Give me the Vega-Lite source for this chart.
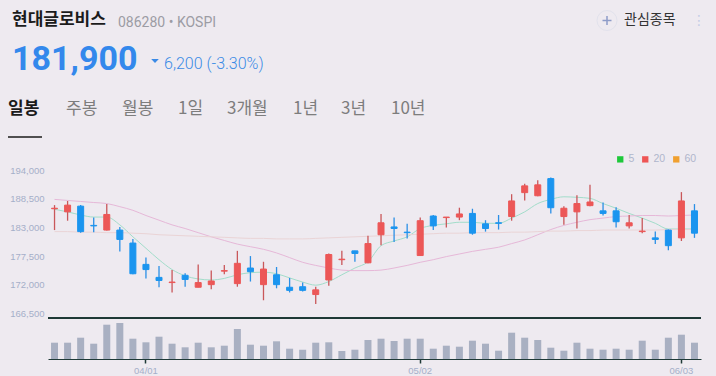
{
  "$schema": "https://vega.github.io/schema/vega-lite/v6.json",
  "width": 653,
  "height": 209,
  "autosize": {"type": "none"},
  "padding": {"left": 48, "top": 150, "right": 15, "bottom": 17},
  "background": "#eeeaf0",
  "config": {
    "view": {"stroke": null},
    "font": "Noto Sans CJK KR",
    "axisY": {"ticks": false, "domain": false, "grid": false, "labelColor": "#a5afc9", "labelFontSize": 9.5, "labelFont": "Liberation Sans", "labelPadding": 4},
    "axisX": {"domainColor": "#1f3a37", "domainWidth": 1.2, "tickColor": "#1f3a37", "tickSize": 4, "tickWidth": 1.5, "labelColor": "#a5afc9", "labelFontSize": 9.5, "labelFont": "Liberation Sans", "labelPadding": 2, "labelAngle": 0, "grid": false, "bandPosition": 0.5}
  },
  "datasets": {
    "candles": [
      {"d":"03/21","o":186600,"h":187300,"l":182500,"c":186700,"v":163000,"m5":186500,"m20":188400,"m60":182200},
      {"d":"03/22","o":186000,"h":188100,"l":184300,"c":187300,"v":163000,"m5":186000,"m20":188200,"m60":182200},
      {"d":"03/25","o":187100,"h":187300,"l":182000,"c":182200,"v":213000,"m5":185400,"m20":188000,"m60":182100},
      {"d":"03/26","o":183400,"h":184900,"l":182100,"c":183300,"v":153000,"m5":185000,"m20":187800,"m60":182100},
      {"d":"03/27","o":182500,"h":187500,"l":182400,"c":185500,"v":343000,"m5":185000,"m20":187600,"m60":182000},
      {"d":"03/28","o":182500,"h":183100,"l":178400,"c":180700,"v":360000,"m5":183500,"m20":187000,"m60":182000},
      {"d":"03/29","o":180000,"h":180800,"l":174000,"c":174100,"v":203000,"m5":181200,"m20":186300,"m60":181900},
      {"d":"04/01","o":175900,"h":177200,"l":173200,"c":174900,"v":167000,"m5":179000,"m20":185300,"m60":181800},
      {"d":"04/02","o":173400,"h":175600,"l":171500,"c":172800,"v":223000,"m5":176800,"m20":184400,"m60":181600},
      {"d":"04/03","o":172400,"h":174800,"l":170500,"c":172500,"v":153000,"m5":174900,"m20":183500,"m60":181500},
      {"d":"04/04","o":173800,"h":174200,"l":171600,"c":173000,"v":117000,"m5":173700,"m20":182800,"m60":181400},
      {"d":"04/05","o":171500,"h":175900,"l":171500,"c":172400,"v":163000,"m5":173100,"m20":182000,"m60":181300},
      {"d":"04/08","o":172000,"h":174700,"l":171100,"c":172700,"v":117000,"m5":172900,"m20":181200,"m60":181200},
      {"d":"04/09","o":174600,"h":175800,"l":174000,"c":174700,"v":133000,"m5":173200,"m20":180500,"m60":181100},
      {"d":"04/11","o":172200,"h":178500,"l":171600,"c":176100,"v":300000,"m5":173900,"m20":179800,"m60":181000},
      {"d":"04/12","o":175200,"h":177500,"l":172600,"c":174500,"v":143000,"m5":174300,"m20":179300,"m60":180900},
      {"d":"04/15","o":172000,"h":176400,"l":169000,"c":175000,"v":133000,"m5":174400,"m20":178800,"m60":180900},
      {"d":"04/16","o":173900,"h":175400,"l":171300,"c":172000,"v":177000,"m5":174100,"m20":178100,"m60":180800},
      {"d":"04/17","o":171500,"h":173300,"l":170500,"c":170900,"v":103000,"m5":173300,"m20":177200,"m60":180800},
      {"d":"04/18","o":171600,"h":172400,"l":170700,"c":170900,"v":93000,"m5":172500,"m20":176300,"m60":180800},
      {"d":"04/19","o":170100,"h":171600,"l":168300,"c":171000,"v":163000,"m5":171900,"m20":175700,"m60":180900},
      {"d":"04/22","o":172900,"h":178000,"l":171800,"c":177800,"v":167000,"m5":172600,"m20":175200,"m60":181000},
      {"d":"04/23","o":176800,"h":178500,"l":175800,"c":176900,"v":80000,"m5":173900,"m20":174800,"m60":181100},
      {"d":"04/24","o":178500,"h":178500,"l":176400,"c":178000,"v":93000,"m5":175200,"m20":174700,"m60":181200},
      {"d":"04/25","o":176200,"h":181400,"l":176100,"c":179900,"v":190000,"m5":176400,"m20":174700,"m60":181300},
      {"d":"04/26","o":181600,"h":185600,"l":179600,"c":183900,"v":203000,"m5":179500,"m20":174800,"m60":181400},
      {"d":"04/29","o":183100,"h":184900,"l":180200,"c":182800,"v":180000,"m5":180400,"m20":175200,"m60":181500},
      {"d":"04/30","o":182100,"h":183700,"l":180900,"c":182000,"v":203000,"m5":181200,"m20":175700,"m60":181600},
      {"d":"05/02","o":177600,"h":184900,"l":177500,"c":184300,"v":203000,"m5":182800,"m20":176300,"m60":181700},
      {"d":"05/03","o":185200,"h":185400,"l":182500,"c":183300,"v":103000,"m5":183400,"m20":176800,"m60":181800},
      {"d":"05/07","o":184900,"h":185000,"l":183000,"c":185000,"v":133000,"m5":183700,"m20":177400,"m60":181900},
      {"d":"05/08","o":185000,"h":186800,"l":184400,"c":185600,"v":123000,"m5":184000,"m20":177900,"m60":181900},
      {"d":"05/09","o":185700,"h":186600,"l":181600,"c":181900,"v":183000,"m5":184000,"m20":178400,"m60":182000},
      {"d":"05/10","o":183700,"h":184400,"l":182200,"c":182800,"v":153000,"m5":183800,"m20":178800,"m60":182000},
      {"d":"05/13","o":183900,"h":185400,"l":182600,"c":183800,"v":83000,"m5":183800,"m20":179200,"m60":182000},
      {"d":"05/14","o":185100,"h":189400,"l":184300,"c":188100,"v":263000,"m5":184800,"m20":179900,"m60":182100},
      {"d":"05/16","o":189700,"h":191400,"l":188200,"c":191000,"v":213000,"m5":186000,"m20":180600,"m60":182100},
      {"d":"05/17","o":189100,"h":192100,"l":189000,"c":191200,"v":190000,"m5":187600,"m20":181600,"m60":182200},
      {"d":"05/20","o":192400,"h":192600,"l":185700,"c":186800,"v":113000,"m5":188400,"m20":182600,"m60":182300},
      {"d":"05/21","o":185100,"h":187100,"l":183500,"c":186700,"v":83000,"m5":188900,"m20":183400,"m60":182300},
      {"d":"05/22","o":186000,"h":189200,"l":182800,"c":187600,"v":163000,"m5":188800,"m20":184000,"m60":182400},
      {"d":"05/23","o":187200,"h":191200,"l":187100,"c":187900,"v":103000,"m5":188600,"m20":184500,"m60":182400},
      {"d":"05/24","o":186200,"h":187800,"l":185300,"c":185700,"v":93000,"m5":187600,"m20":184800,"m60":182500},
      {"d":"05/27","o":186200,"h":186900,"l":183000,"c":184100,"v":103000,"m5":186700,"m20":185100,"m60":182500},
      {"d":"05/28","o":183300,"h":185400,"l":182800,"c":183900,"v":93000,"m5":185700,"m20":185200,"m60":182500},
      {"d":"05/29","o":182200,"h":184800,"l":181900,"c":182300,"v":183000,"m5":184800,"m20":185300,"m60":182500},
      {"d":"05/30","o":181000,"h":182200,"l":179800,"c":180700,"v":93000,"m5":183800,"m20":185300,"m60":182500},
      {"d":"05/31","o":182500,"h":182600,"l":178600,"c":179500,"v":213000,"m5":182700,"m20":185200,"m60":182600},
      {"d":"06/03","o":181000,"h":189800,"l":180400,"c":188100,"v":243000,"m5":182700,"m20":185300,"m60":182600},
      {"d":"06/04","o":186200,"h":187500,"l":181000,"c":181900,"v":163000,"m5":182700,"m20":185400,"m60":182600}
    ]
  },
  "layer": [
    {
      "data": {"name": "candles"},
      "mark": {"type": "bar", "width": 7, "color": "#a9b0c2"},
      "encoding": {
        "x": {"field": "d", "type": "ordinal", "sort": null, "title": null, "scale": {"type": "band", "paddingInner": 0, "paddingOuter": 0}, "axis": {"values": ["04/01", "05/02", "06/03"], "title": null}},
        "y": {"field": "v", "type": "quantitative", "scale": {"domain": [0, 2090000], "nice": false}, "axis": null}
      }
    },
    {
      "data": {"name": "candles"},
      "layer": [
        {
          "transform": [{"fold": ["m5", "m20", "m60"], "as": ["k", "val"]}],
          "mark": {"type": "line", "strokeWidth": 1, "interpolate": "monotone"},
          "encoding": {
            "x": {"field": "d", "type": "ordinal", "sort": null, "title": null, "scale": {"type": "band", "paddingInner": 0, "paddingOuter": 0}, "axis": {"values": ["04/01", "05/02", "06/03"], "title": null}},
            "y": {"field": "val", "type": "quantitative", "scale": {"domain": [157700, 197900], "nice": false, "zero": false}, "axis": {"values": [166500, 172000, 177500, 183000, 188500, 194000], "format": ",d", "title": null}},
            "color": {
              "field": "k", "type": "nominal",
              "scale": {"domain": ["m5", "m20", "m60"], "range": ["#a2ddca", "#e6b8d8", "#ead4d6"]},
              "legend": {
                "orient": "top-right", "direction": "horizontal", "title": null,
                "symbolType": "square", "symbolSize": 40, "symbolStrokeWidth": 0,
                "labelFontSize": 10.5, "labelColor": "#b0b6cc", "labelFont": "Liberation Sans",
                "labelExpr": "replace(datum.label, 'm', '')",
                "offset": 4, "padding": 0, "columnPadding": 5, "labelOffset": 3,
                "encode": {"symbols": {"update": {"fill": {"signal": "datum.value == 'm5' ? '#1ec83a' : datum.value == 'm20' ? '#ee5555' : '#f0a030'"}, "stroke": {"value": "transparent"}, "opacity": {"value": 1}}}}
              }
            }
          }
        },
        {
          "mark": {"type": "rule", "strokeWidth": 1.3},
          "encoding": {
            "x": {"field": "d", "type": "ordinal", "sort": null, "title": null, "scale": {"type": "band", "paddingInner": 0, "paddingOuter": 0}, "axis": {"values": ["04/01", "05/02", "06/03"], "title": null}},
            "y": {"field": "l", "type": "quantitative", "axis": {"values": [166500, 172000, 177500, 183000, 188500, 194000], "format": ",d", "title": null}},
            "y2": {"field": "h"},
            "color": {"condition": {"test": "datum.c >= datum.o", "value": "#c9575a"}, "value": "#2a8fe6"}
          }
        },
        {
          "mark": {"type": "bar", "width": 6, "strokeWidth": 1},
          "encoding": {
            "x": {"field": "d", "type": "ordinal", "sort": null, "title": null, "scale": {"type": "band", "paddingInner": 0, "paddingOuter": 0}, "axis": {"values": ["04/01", "05/02", "06/03"], "title": null}},
            "y": {"field": "o", "type": "quantitative", "axis": {"values": [166500, 172000, 177500, 183000, 188500, 194000], "format": ",d", "title": null}},
            "y2": {"field": "c"},
            "fill": {"condition": {"test": "datum.c >= datum.o", "value": "#ec5757"}, "value": "#1b95ef"},
            "stroke": {"condition": {"test": "datum.c >= datum.o", "value": "#ec5757"}, "value": "#1b95ef"}
          }
        },
        {
          "mark": {"type": "rule", "color": "#1f3a37", "strokeWidth": 1.2},
          "encoding": {"y": {"datum": 165640, "type": "quantitative"}}
        }
      ]
    },
    {"data": {"values": [{}]}, "mark": {"type": "text", "text": "현대글로비스", "x": -36, "y": -130.3, "align": "left", "baseline": "middle", "fontSize": 17, "fontWeight": "bold", "color": "#1b1b1b"}},
    {"data": {"values": [{}]}, "mark": {"type": "text", "text": "086280 • KOSPI", "x": 70, "y": -123.3, "align": "left", "baseline": "alphabetic", "fontSize": 14, "font": "Roboto", "color": "#9c9ca4"}},
    {"data": {"values": [{}]}, "mark": {"type": "text", "text": "181,900", "x": -36, "y": -80, "align": "left", "baseline": "alphabetic", "fontSize": 34, "font": "Roboto", "fontWeight": "bold", "color": "#3388ec"}},
    {"data": {"values": [{}]}, "mark": {"type": "point", "x": 107, "y": -89, "shape": "M-1,-0.55L1,-0.55L0,0.55Z", "size": 58, "filled": true, "opacity": 1, "color": "#3a8ae6", "strokeWidth": 0}},
    {"data": {"values": [{}]}, "mark": {"type": "text", "text": "6,200 (-3.30%)", "x": 116, "y": -81, "align": "left", "baseline": "alphabetic", "fontSize": 16, "font": "Roboto", "fontWeight": 300, "color": "#3a8ae6"}},
    {"data": {"values": [{}]}, "mark": {"type": "point", "x": 559, "y": -129.5, "shape": "circle", "size": 400, "filled": false, "opacity": 1, "color": "#e2e2ec", "strokeWidth": 1}},
    {"data": {"values": [{}]}, "mark": {"type": "point", "x": 559, "y": -129.5, "shape": "M-1,0L1,0M0,-1L0,1", "size": 81, "filled": false, "opacity": 1, "color": "#8e9cc8", "strokeWidth": 1.5}},
    {"data": {"values": [{}]}, "mark": {"type": "text", "text": "관심종목", "x": 576, "y": -130, "align": "left", "baseline": "middle", "fontSize": 14, "color": "#333333"}},
    {"data": {"values": [{}]}, "mark": {"type": "text", "text": "⋮", "x": 651, "y": -129.5, "align": "center", "baseline": "middle", "fontSize": 14, "font": "DejaVu Sans", "color": "#c5cde6"}},
    {"data": {"values": [{}]}, "mark": {"type": "text", "text": "일봉", "x": -40, "y": -41, "align": "left", "baseline": "middle", "fontSize": 17, "fontWeight": "bold", "color": "#1b1b1b"}},
    {"data": {"values": [{}]}, "mark": {"type": "text", "text": "주봉", "x": 18, "y": -41, "align": "left", "baseline": "middle", "fontSize": 17, "color": "#7d7d7d"}},
    {"data": {"values": [{}]}, "mark": {"type": "text", "text": "월봉", "x": 74, "y": -41, "align": "left", "baseline": "middle", "fontSize": 17, "color": "#7d7d7d"}},
    {"data": {"values": [{}]}, "mark": {"type": "text", "text": "1일", "x": 130, "y": -41, "align": "left", "baseline": "middle", "fontSize": 17, "color": "#7d7d7d"}},
    {"data": {"values": [{}]}, "mark": {"type": "text", "text": "3개월", "x": 179, "y": -41, "align": "left", "baseline": "middle", "fontSize": 17, "color": "#7d7d7d"}},
    {"data": {"values": [{}]}, "mark": {"type": "text", "text": "1년", "x": 245, "y": -41, "align": "left", "baseline": "middle", "fontSize": 17, "color": "#7d7d7d"}},
    {"data": {"values": [{}]}, "mark": {"type": "text", "text": "3년", "x": 293, "y": -41, "align": "left", "baseline": "middle", "fontSize": 17, "color": "#7d7d7d"}},
    {"data": {"values": [{}]}, "mark": {"type": "text", "text": "10년", "x": 343, "y": -41, "align": "left", "baseline": "middle", "fontSize": 17, "color": "#7d7d7d"}},
    {"data": {"values": [{}]}, "mark": {"type": "rule", "color": "#1b1b1b", "strokeWidth": 1.5}, "encoding": {"x": {"value": -40}, "x2": {"value": -6}, "y": {"value": -13}, "y2": {"value": -13}}}
  ],
  "resolve": {"scale": {"y": "independent"}}
}
